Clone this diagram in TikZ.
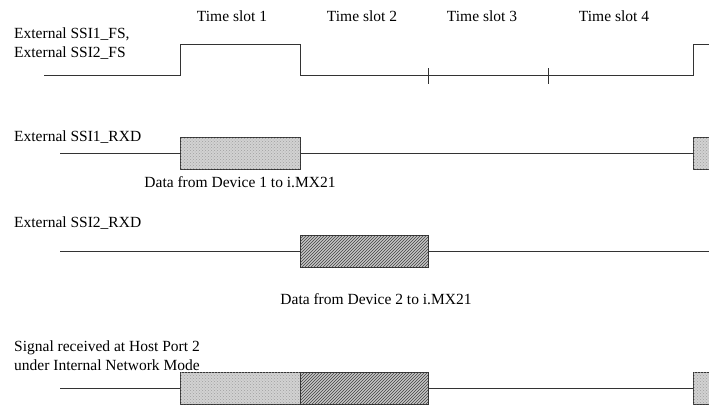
\documentclass[tikz,border=0pt]{standalone}
\usepackage{fontspec}
\setmainfont{Liberation Serif}
\usepackage{tikz}
\usetikzlibrary{patterns}
\tikzset{
  sig/.style={draw=black!80, line width=1pt},
  lbl/.style={anchor=base west, inner sep=0pt, align=left},
  slot/.style={anchor=base, inner sep=0pt},
  lightdata/.style={draw=black!80, line width=0.9pt, fill=gray!35,
    postaction={pattern=crosshatch dots, pattern color=gray!75},
    minimum height=32pt, inner sep=0pt},
  darkdata/.style={draw=black!80, line width=0.9pt, fill=gray!45,
    postaction={pattern=north east lines, pattern color=black!75},
    minimum height=32pt, inner sep=0pt}
}

\begin{document}
\begin{tikzpicture}[x=1pt, y=-1pt, font=\fontsize{15.5}{19}\selectfont]
            \clip (0,0) rectangle (709,407);

            %Time slots
            \node[slot] at (232,21) (ts1) {Time slot 1};
            \node[slot] at (362,21) (ts2) {Time slot 2};
            \node[slot] at (482,21) (ts3) {Time slot 3};
            \node[slot] at (614,21) (ts4) {Time slot 4};

            %Labels (base = last line)
            \node[lbl] at (14,57) (fs) {External SSI1\_FS,\\External SSI2\_FS};
            \node[lbl] at (14,141) (rxd1) {External SSI1\_RXD};
            \node[lbl] at (14,227) (rxd2) {External SSI2\_RXD};
            \node[lbl] at (14,370) (host) {Signal received at Host Port 2\\under Internal Network Mode};
            \node[slot] at (240,187) (dev1) {Data from Device 1 to i.MX21};
            \node[slot] at (376,304) (dev2) {Data from Device 2 to i.MX21};

            %Frame sync
            \coordinate (f0) at (44,75);
            \coordinate (f1) at (180,44);
            \coordinate (f2) at (300,75);
            \coordinate (f3) at (693,44);
            \draw[sig] (f0) -| (f1) -| (f2) -| (f3) -- ++(30,0);
            \foreach \x in {428,548}
                \draw[sig] (\x,68) -- (\x,84);

            %RXD1
            \node[lightdata, minimum width=120pt] at (240,153) (d1) {};
            \node[lightdata, minimum width=40pt] at (713,153) (d1b) {};
            \coordinate (r1) at (60,153);
            \draw[sig] (r1) -- (d1.west);
            \draw[sig] (d1.east) -- (d1b.west);

            %RXD2
            \node[darkdata, minimum width=128pt] at (364,251) (d2) {};
            \coordinate (r2) at (60,251);
            \coordinate (r2e) at (709,251);
            \draw[sig] (r2) -- (d2.west);
            \draw[sig] (d2.east) -- (r2e);

            %Host port 2
            \node[lightdata, minimum width=120pt] at (240,388) (h1) {};
            \node[darkdata, minimum width=128pt] at (364,388) (h2) {};
            \node[lightdata, minimum width=40pt] at (713,388) (h3) {};
            \coordinate (h0) at (60,388);
            \draw[sig] (h0) -- (h1.west);
            \draw[sig] (h2.east) -- (h3.west);
        \end{tikzpicture}
\end{document}
